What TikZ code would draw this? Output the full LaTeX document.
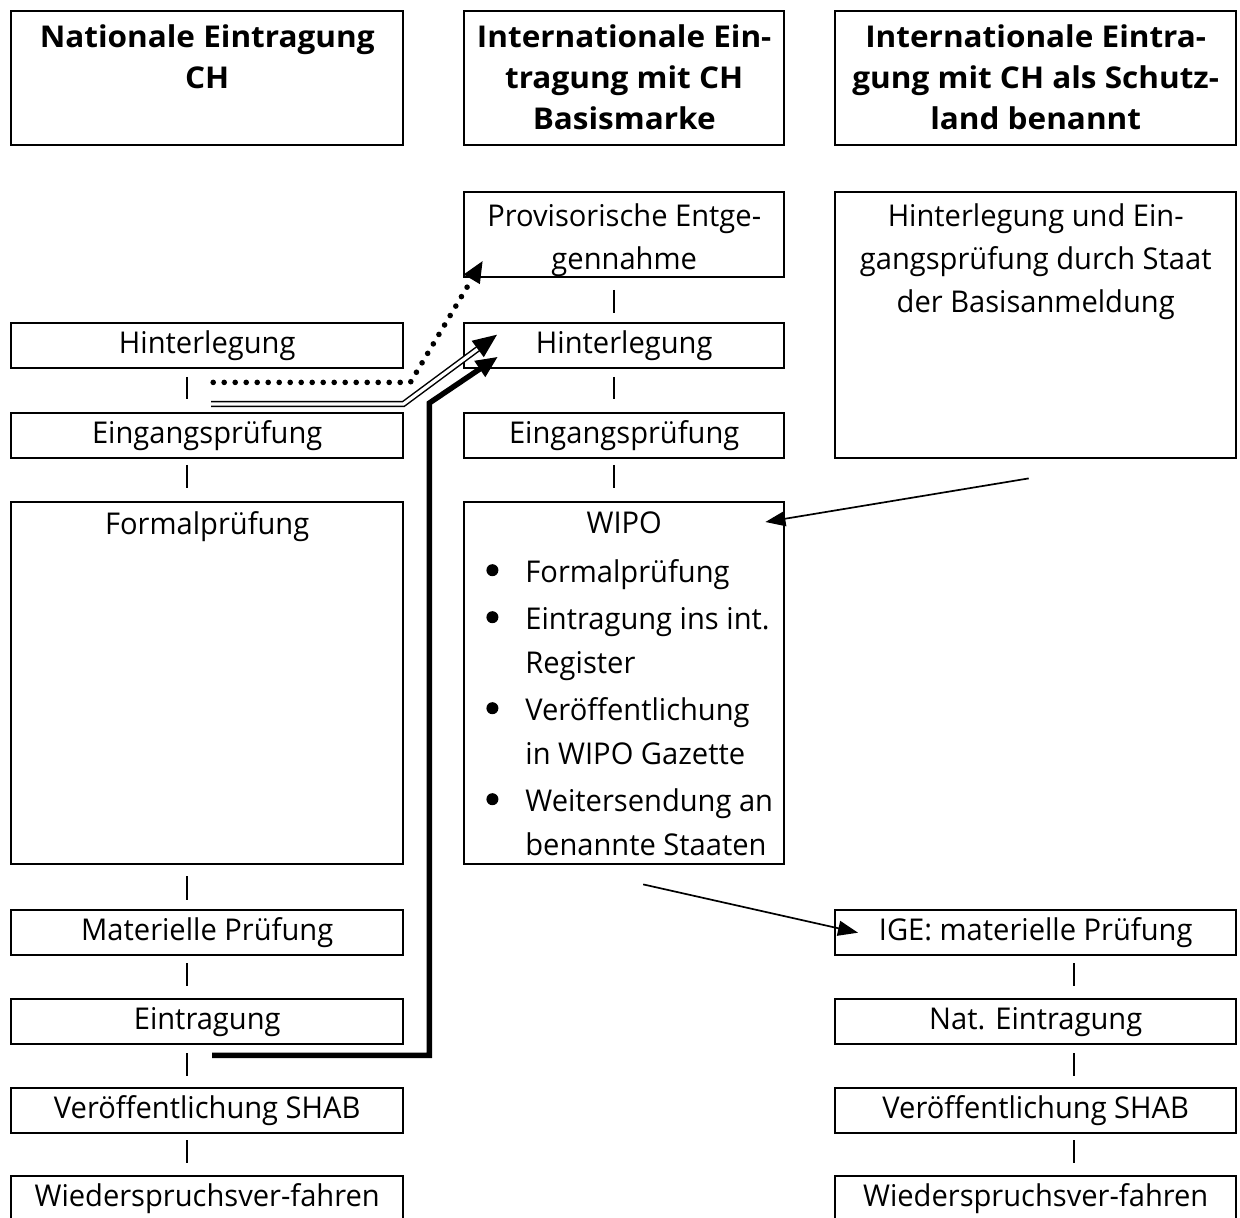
\documentclass[tikz,border=0pt]{standalone}
\usepackage{fontspec}
\setmainfont{Open Sans}[FakeStretch=0.97, BoldFeatures={FakeStretch=1.05}]
\usetikzlibrary{arrows.meta,positioning,calc}

\newcommand{\bodyfont}{\fontsize{15}{21.5}\selectfont}
\newcommand{\headfont}{\fontsize{15}{20.5}\selectfont\bfseries}
\newcommand{\bulletmark}{\raisebox{3pt}{\tikz\fill (0,0) circle (3pt);}}

\tikzset{
  box/.style={draw, line width=1.2pt, inner sep=0pt, anchor=north west,
    align=center, minimum height=22.5pt, font=\bodyfont},
  colA/.style={box, minimum width=196pt},
  colB/.style={box, minimum width=160pt},
  colC/.style={box, minimum width=200.5pt},
  txt/.style={inner sep=0pt, align=center, font=\bodyfont},
  head/.style={inner sep=0pt, align=center, font=\headfont},
  tick/.style={line width=0.8pt},
  thinarrow/.style={line width=0.85pt, -{Triangle[length=10pt,width=7.5pt]}},
  dotline/.style={line width=2.8pt, line cap=round, dash pattern=on 0pt off 5.5pt,
    -{Triangle[length=11pt,width=8.5pt]}},
  dblline/.style={double, double distance=1.6pt, line width=0.75pt, shorten >=8pt},
  dbltip/.style={line width=0.75pt, -{Triangle[length=12pt,width=10pt]}},
  thkline/.style={line width=2.7pt, -{Triangle[length=11pt,width=9pt]}}
}

\begin{document}
\begin{tikzpicture}[x=0.5pt,y=-0.5pt]
\useasboundingbox (0,0) rectangle (1240,1218);

% headers
\node[colA, minimum height=67pt] (hdA) at (10,10) {};
\node[head, below=7pt of hdA.north] (hdAt) {Nationale Eintragung\\CH};
\node[colB, minimum height=67pt] (hdB) at (463,10) {};
\node[head, below=7pt of hdB.north] (hdBt) {Internationale Ein-\\tragung mit CH\\Basismarke};
\node[colC, minimum height=67pt] (hdC) at (834,10) {};
\node[head, below=7pt of hdC.north] (hdCt) {Internationale Eintra-\\gung mit CH als Schutz-\\land benannt};

% national
\node[colA] (hinA) at (10,322) {Hinterlegung};
\node[colA] (einA) at (10,412) {Eingangsprüfung};
\node[colA, minimum height=181pt] (formA) at (10,501) {};
\node[txt, below=5pt of formA.north] (formAt) {Formalprüfung};
\node[colA] (matA) at (10,909) {Materielle Prüfung};
\node[colA] (eintA) at (10,998) {Eintragung};
\node[colA] (pubA) at (10,1087) {Veröffentlichung SHAB};
\node[colA] (widA) at (10,1175) {Wiederspruchsver-fahren};

\draw[tick] (187,377) -- (187,399);
\draw[tick] (187,465) -- (187,488);
\draw[tick] (187,876) -- (187,900);
\draw[tick] (187,963) -- (187,986);
\draw[tick] (187,1053) -- (187,1076);
\draw[tick] (187,1140) -- (187,1163);

% international, CH basis
\node[colB, minimum height=42.5pt] (provB) at (463,191) {};
\node[txt, below=6pt of provB.north] (provBt) {Provisorische Entge-\\gennahme};
\node[colB] (hinB) at (463,322) {Hinterlegung};
\node[colB] (einB) at (463,412) {Eingangsprüfung};
\node[colB, minimum height=181pt] (wipoB) at (463,501) {};
\node[txt, below=5pt of wipoB.north] (wipoBt) {WIPO};
\node[txt, anchor=north west, align=left, font=\fontsize{15}{22}\selectfont] (wipoBl) at (486,551) {%
  \begin{tabular}{@{}p{19.5pt}@{}l@{}}
  \bulletmark & Formalprüfung\\[1.5pt]
  \bulletmark & Eintragung ins int.\\
              & Register\\[1.5pt]
  \bulletmark & Veröffentlichung\\
              & in WIPO Gazette\\[1.5pt]
  \bulletmark & Weitersendung an\\
              & benannte Staaten
  \end{tabular}};

\draw[tick] (614,290) -- (614,313);
\draw[tick] (614,377) -- (614,399);
\draw[tick] (614,465) -- (614,488);

% international, CH designated
\node[colC, minimum height=133pt] (depC) at (834,191) {};
\node[txt, below=6pt of depC.north] (depCt) {Hinterlegung und Ein-\\gangsprüfung durch Staat\\der Basisanmeldung};
\node[colC] (igeC) at (834,909) {IGE: materielle Prüfung};
\node[colC] (eintC) at (834,998) {Nat. Eintragung};
\node[colC] (pubC) at (834,1087) {Veröffentlichung SHAB};
\node[colC] (widC) at (834,1175) {Wiederspruchsver-fahren};

\draw[tick] (1074,963) -- (1074,986);
\draw[tick] (1074,1053) -- (1074,1076);
\draw[tick] (1074,1140) -- (1074,1163);

% transfers
\coordinate (dotS) at ([shift={(6,13)}]hinA.south);
\coordinate (dotK) at ([shift={(6,13)}]hinA.south east);
\coordinate (dotE) at ([shift={(20,-18)}]provB.south west);
\draw[dotline] (dotS) -- (dotK) -- (dotE);

\coordinate (dblS) at ([shift={(4,-8)}]einA.north);
\coordinate (dblK) at ([shift={(-1,-8)}]einA.north east);
\coordinate (dblE) at ([shift={(34,-11)}]hinB.west);
\draw[dblline] (dblS) -- (dblK) -- (dblE);
\draw[dbltip] ($(dblK)!0.85!(dblE)$) -- (dblE);

\coordinate (thkS) at ([shift={(5,10)}]eintA.south);
\coordinate (thkK) at ([shift={(25,10)}]eintA.south east);
\coordinate (thkU) at ([shift={(25,-9)}]einA.north east);
\coordinate (thkE) at ([shift={(35,11)}]hinB.west);
\draw[thkline] (thkS) -- (thkK) -- (thkU) -- (thkE);

\coordinate (depOut) at ([shift={(-7,19)}]depC.south);
\coordinate (wipoIn) at ([shift={(-20,21)}]wipoB.north east);
\draw[thinarrow] (depOut) -- (wipoIn);

\coordinate (wipoOut) at ([shift={(19,19)}]wipoB.south);
\coordinate (igeIn) at ([xshift=12pt]igeC.west);
\draw[thinarrow] (wipoOut) -- (igeIn);
\end{tikzpicture}
\end{document}
